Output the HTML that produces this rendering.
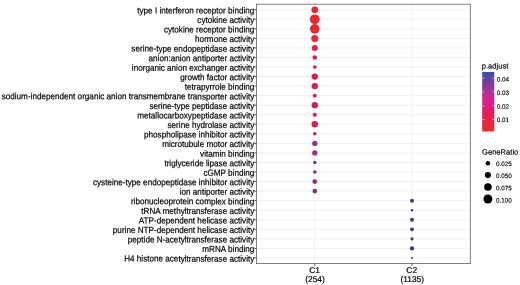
<!DOCTYPE html>
<html><head><meta charset="utf-8"><title>dotplot</title>
<style>
html,body{margin:0;padding:0;background:#fff;}
svg{display:block;}
text{font-family:"Liberation Sans",Arial,Helvetica,sans-serif;fill:#000;text-rendering:geometricPrecision;stroke:#000;stroke-width:0.2px;}
.ax{font-size:8.9px;}
.xl{font-size:8.4px;}
.lt{font-size:7.6px;stroke-width:0.18px;}
.ll{font-size:6.3px;stroke-width:0.14px;}
</style></head><body>
<svg width="520" height="285" viewBox="0 0 520 285">
<rect x="0" y="0" width="520" height="285" fill="#ffffff"/>

<line x1="256.40" x2="470.30" y1="9.75" y2="9.75" stroke="#f0f0f0" stroke-width="1.0"/>
<line x1="256.40" x2="470.30" y1="19.30" y2="19.30" stroke="#f0f0f0" stroke-width="1.0"/>
<line x1="256.40" x2="470.30" y1="28.84" y2="28.84" stroke="#f0f0f0" stroke-width="1.0"/>
<line x1="256.40" x2="470.30" y1="38.38" y2="38.38" stroke="#f0f0f0" stroke-width="1.0"/>
<line x1="256.40" x2="470.30" y1="47.93" y2="47.93" stroke="#f0f0f0" stroke-width="1.0"/>
<line x1="256.40" x2="470.30" y1="57.48" y2="57.48" stroke="#f0f0f0" stroke-width="1.0"/>
<line x1="256.40" x2="470.30" y1="67.02" y2="67.02" stroke="#f0f0f0" stroke-width="1.0"/>
<line x1="256.40" x2="470.30" y1="76.56" y2="76.56" stroke="#f0f0f0" stroke-width="1.0"/>
<line x1="256.40" x2="470.30" y1="86.11" y2="86.11" stroke="#f0f0f0" stroke-width="1.0"/>
<line x1="256.40" x2="470.30" y1="95.66" y2="95.66" stroke="#f0f0f0" stroke-width="1.0"/>
<line x1="256.40" x2="470.30" y1="105.20" y2="105.20" stroke="#f0f0f0" stroke-width="1.0"/>
<line x1="256.40" x2="470.30" y1="114.75" y2="114.75" stroke="#f0f0f0" stroke-width="1.0"/>
<line x1="256.40" x2="470.30" y1="124.29" y2="124.29" stroke="#f0f0f0" stroke-width="1.0"/>
<line x1="256.40" x2="470.30" y1="133.83" y2="133.83" stroke="#f0f0f0" stroke-width="1.0"/>
<line x1="256.40" x2="470.30" y1="143.38" y2="143.38" stroke="#f0f0f0" stroke-width="1.0"/>
<line x1="256.40" x2="470.30" y1="152.93" y2="152.93" stroke="#f0f0f0" stroke-width="1.0"/>
<line x1="256.40" x2="470.30" y1="162.47" y2="162.47" stroke="#f0f0f0" stroke-width="1.0"/>
<line x1="256.40" x2="470.30" y1="172.01" y2="172.01" stroke="#f0f0f0" stroke-width="1.0"/>
<line x1="256.40" x2="470.30" y1="181.56" y2="181.56" stroke="#f0f0f0" stroke-width="1.0"/>
<line x1="256.40" x2="470.30" y1="191.10" y2="191.10" stroke="#f0f0f0" stroke-width="1.0"/>
<line x1="256.40" x2="470.30" y1="200.65" y2="200.65" stroke="#f0f0f0" stroke-width="1.0"/>
<line x1="256.40" x2="470.30" y1="210.19" y2="210.19" stroke="#f0f0f0" stroke-width="1.0"/>
<line x1="256.40" x2="470.30" y1="219.74" y2="219.74" stroke="#f0f0f0" stroke-width="1.0"/>
<line x1="256.40" x2="470.30" y1="229.28" y2="229.28" stroke="#f0f0f0" stroke-width="1.0"/>
<line x1="256.40" x2="470.30" y1="238.83" y2="238.83" stroke="#f0f0f0" stroke-width="1.0"/>
<line x1="256.40" x2="470.30" y1="248.38" y2="248.38" stroke="#f0f0f0" stroke-width="1.0"/>
<line x1="256.40" x2="470.30" y1="257.92" y2="257.92" stroke="#f0f0f0" stroke-width="1.0"/>
<line x1="314.80" x2="314.80" y1="4.20" y2="263.60" stroke="#f0f0f0" stroke-width="1.0"/>
<line x1="412.00" x2="412.00" y1="4.20" y2="263.60" stroke="#f0f0f0" stroke-width="1.0"/>
<circle cx="314.80" cy="9.75" r="3.35" fill="#E7262D"/>
<circle cx="314.80" cy="19.30" r="4.90" fill="#E7262D"/>
<circle cx="314.80" cy="28.84" r="4.85" fill="#E7262D"/>
<circle cx="314.80" cy="38.38" r="3.50" fill="#E7262D"/>
<circle cx="314.80" cy="47.93" r="3.00" fill="#DE2046"/>
<circle cx="314.80" cy="57.48" r="2.25" fill="#DA1D50"/>
<circle cx="314.80" cy="67.02" r="1.85" fill="#DA1D50"/>
<circle cx="314.80" cy="76.56" r="3.15" fill="#DA1D50"/>
<circle cx="314.80" cy="86.11" r="3.20" fill="#DA1D50"/>
<circle cx="314.80" cy="95.66" r="1.95" fill="#DA1D50"/>
<circle cx="314.80" cy="105.20" r="3.15" fill="#DA1D50"/>
<circle cx="314.80" cy="114.75" r="2.05" fill="#DA1D50"/>
<circle cx="314.80" cy="124.29" r="3.20" fill="#DA1D50"/>
<circle cx="314.80" cy="133.83" r="1.75" fill="#CE1A60"/>
<circle cx="314.80" cy="143.38" r="2.65" fill="#982F90"/>
<circle cx="314.80" cy="152.93" r="2.65" fill="#982F90"/>
<circle cx="314.80" cy="162.47" r="1.75" fill="#8A2A8A"/>
<circle cx="314.80" cy="172.01" r="1.80" fill="#8A2A8A"/>
<circle cx="314.80" cy="181.56" r="2.35" fill="#8A2A8A"/>
<circle cx="314.80" cy="191.10" r="2.35" fill="#8A2A8A"/>
<circle cx="412.00" cy="200.65" r="2.00" fill="#56288A"/>
<circle cx="412.00" cy="210.19" r="1.25" fill="#56288A"/>
<circle cx="412.00" cy="219.74" r="1.90" fill="#56288A"/>
<circle cx="412.00" cy="229.28" r="1.85" fill="#56288A"/>
<circle cx="412.00" cy="238.83" r="1.60" fill="#56288A"/>
<circle cx="412.00" cy="248.38" r="2.15" fill="#56288A"/>
<circle cx="412.00" cy="257.92" r="0.95" fill="#3E2070"/>
<rect x="256.40" y="4.20" width="213.90" height="259.40" fill="none" stroke="#606060" stroke-width="0.8"/>
<line x1="254.20" x2="256.40" y1="9.75" y2="9.75" stroke="#333" stroke-width="0.8"/>
<text class="ax" transform="translate(254.30,13.50) scale(0.916,1) rotate(0.03)" text-anchor="end">type I interferon receptor binding</text>
<line x1="254.20" x2="256.40" y1="19.30" y2="19.30" stroke="#333" stroke-width="0.8"/>
<text class="ax" transform="translate(254.30,23.05) scale(0.916,1) rotate(0.03)" text-anchor="end">cytokine activity</text>
<line x1="254.20" x2="256.40" y1="28.84" y2="28.84" stroke="#333" stroke-width="0.8"/>
<text class="ax" transform="translate(254.30,32.59) scale(0.916,1) rotate(0.03)" text-anchor="end">cytokine receptor binding</text>
<line x1="254.20" x2="256.40" y1="38.38" y2="38.38" stroke="#333" stroke-width="0.8"/>
<text class="ax" transform="translate(254.30,42.13) scale(0.916,1) rotate(0.03)" text-anchor="end">hormone activity</text>
<line x1="254.20" x2="256.40" y1="47.93" y2="47.93" stroke="#333" stroke-width="0.8"/>
<text class="ax" transform="translate(254.30,51.68) scale(0.916,1) rotate(0.03)" text-anchor="end">serine-type endopeptidase activity</text>
<line x1="254.20" x2="256.40" y1="57.48" y2="57.48" stroke="#333" stroke-width="0.8"/>
<text class="ax" transform="translate(254.30,61.23) scale(0.916,1) rotate(0.03)" text-anchor="end">anion:anion antiporter activity</text>
<line x1="254.20" x2="256.40" y1="67.02" y2="67.02" stroke="#333" stroke-width="0.8"/>
<text class="ax" transform="translate(254.30,70.77) scale(0.916,1) rotate(0.03)" text-anchor="end">inorganic anion exchanger activity</text>
<line x1="254.20" x2="256.40" y1="76.56" y2="76.56" stroke="#333" stroke-width="0.8"/>
<text class="ax" transform="translate(254.30,80.31) scale(0.916,1) rotate(0.03)" text-anchor="end">growth factor activity</text>
<line x1="254.20" x2="256.40" y1="86.11" y2="86.11" stroke="#333" stroke-width="0.8"/>
<text class="ax" transform="translate(254.30,89.86) scale(0.916,1) rotate(0.03)" text-anchor="end">tetrapyrrole binding</text>
<line x1="254.20" x2="256.40" y1="95.66" y2="95.66" stroke="#333" stroke-width="0.8"/>
<text class="ax" transform="translate(254.30,99.41) scale(0.916,1) rotate(0.03)" text-anchor="end">sodium-independent organic anion transmembrane transporter activity</text>
<line x1="254.20" x2="256.40" y1="105.20" y2="105.20" stroke="#333" stroke-width="0.8"/>
<text class="ax" transform="translate(254.30,108.95) scale(0.916,1) rotate(0.03)" text-anchor="end">serine-type peptidase activity</text>
<line x1="254.20" x2="256.40" y1="114.75" y2="114.75" stroke="#333" stroke-width="0.8"/>
<text class="ax" transform="translate(254.30,118.50) scale(0.916,1) rotate(0.03)" text-anchor="end">metallocarboxypeptidase activity</text>
<line x1="254.20" x2="256.40" y1="124.29" y2="124.29" stroke="#333" stroke-width="0.8"/>
<text class="ax" transform="translate(254.30,128.04) scale(0.916,1) rotate(0.03)" text-anchor="end">serine hydrolase activity</text>
<line x1="254.20" x2="256.40" y1="133.83" y2="133.83" stroke="#333" stroke-width="0.8"/>
<text class="ax" transform="translate(254.30,137.58) scale(0.916,1) rotate(0.03)" text-anchor="end">phospholipase inhibitor activity</text>
<line x1="254.20" x2="256.40" y1="143.38" y2="143.38" stroke="#333" stroke-width="0.8"/>
<text class="ax" transform="translate(254.30,147.13) scale(0.916,1) rotate(0.03)" text-anchor="end">microtubule motor activity</text>
<line x1="254.20" x2="256.40" y1="152.93" y2="152.93" stroke="#333" stroke-width="0.8"/>
<text class="ax" transform="translate(254.30,156.68) scale(0.916,1) rotate(0.03)" text-anchor="end">vitamin binding</text>
<line x1="254.20" x2="256.40" y1="162.47" y2="162.47" stroke="#333" stroke-width="0.8"/>
<text class="ax" transform="translate(254.30,166.22) scale(0.916,1) rotate(0.03)" text-anchor="end">triglyceride lipase activity</text>
<line x1="254.20" x2="256.40" y1="172.01" y2="172.01" stroke="#333" stroke-width="0.8"/>
<text class="ax" transform="translate(254.30,175.76) scale(0.916,1) rotate(0.03)" text-anchor="end">cGMP binding</text>
<line x1="254.20" x2="256.40" y1="181.56" y2="181.56" stroke="#333" stroke-width="0.8"/>
<text class="ax" transform="translate(254.30,185.31) scale(0.916,1) rotate(0.03)" text-anchor="end">cysteine-type endopeptidase inhibitor activity</text>
<line x1="254.20" x2="256.40" y1="191.10" y2="191.10" stroke="#333" stroke-width="0.8"/>
<text class="ax" transform="translate(254.30,194.85) scale(0.916,1) rotate(0.03)" text-anchor="end">ion antiporter activity</text>
<line x1="254.20" x2="256.40" y1="200.65" y2="200.65" stroke="#333" stroke-width="0.8"/>
<text class="ax" transform="translate(254.30,204.40) scale(0.916,1) rotate(0.03)" text-anchor="end">ribonucleoprotein complex binding</text>
<line x1="254.20" x2="256.40" y1="210.19" y2="210.19" stroke="#333" stroke-width="0.8"/>
<text class="ax" transform="translate(254.30,213.94) scale(0.916,1) rotate(0.03)" text-anchor="end">tRNA methyltransferase activity</text>
<line x1="254.20" x2="256.40" y1="219.74" y2="219.74" stroke="#333" stroke-width="0.8"/>
<text class="ax" transform="translate(254.30,223.49) scale(0.916,1) rotate(0.03)" text-anchor="end">ATP-dependent helicase activity</text>
<line x1="254.20" x2="256.40" y1="229.28" y2="229.28" stroke="#333" stroke-width="0.8"/>
<text class="ax" transform="translate(254.30,233.03) scale(0.916,1) rotate(0.03)" text-anchor="end">purine NTP-dependent helicase activity</text>
<line x1="254.20" x2="256.40" y1="238.83" y2="238.83" stroke="#333" stroke-width="0.8"/>
<text class="ax" transform="translate(254.30,242.58) scale(0.916,1) rotate(0.03)" text-anchor="end">peptide N-acetyltransferase activity</text>
<line x1="254.20" x2="256.40" y1="248.38" y2="248.38" stroke="#333" stroke-width="0.8"/>
<text class="ax" transform="translate(254.30,252.12) scale(0.916,1) rotate(0.03)" text-anchor="end">mRNA binding</text>
<line x1="254.20" x2="256.40" y1="257.92" y2="257.92" stroke="#333" stroke-width="0.8"/>
<text class="ax" transform="translate(254.30,261.67) scale(0.916,1) rotate(0.03)" text-anchor="end">H4 histone acetyltransferase activity</text>
<line x1="314.80" x2="314.80" y1="263.60" y2="265.80" stroke="#333" stroke-width="0.8"/>
<text class="xl" transform="translate(314.50,273.00) rotate(0.03)" text-anchor="middle">C1</text>
<text class="xl" transform="translate(315.00,281.90) rotate(0.03)" text-anchor="middle">(254)</text>
<line x1="412.00" x2="412.00" y1="263.60" y2="265.80" stroke="#333" stroke-width="0.8"/>
<text class="xl" transform="translate(411.70,273.00) rotate(0.03)" text-anchor="middle">C2</text>
<text class="xl" transform="translate(412.20,281.90) rotate(0.03)" text-anchor="middle">(1135)</text>
<defs><linearGradient id="cb" x1="0" y1="0" x2="0" y2="1">
<stop offset="0" stop-color="#3B4EA6"/>
<stop offset="0.10" stop-color="#5C46A3"/>
<stop offset="0.22" stop-color="#7F3B9C"/>
<stop offset="0.33" stop-color="#AE2F97"/>
<stop offset="0.47" stop-color="#D81F90"/>
<stop offset="0.57" stop-color="#E31C7C"/>
<stop offset="0.67" stop-color="#E31D60"/>
<stop offset="0.80" stop-color="#E4254A"/>
<stop offset="1" stop-color="#E8302A"/>
</linearGradient></defs>
<text class="lt" transform="translate(481.7,68.5) rotate(0.03)">p.adjust</text>
<rect x="482.20" y="72.00" width="12.10" height="59.50" fill="url(#cb)"/>
<line x1="482.20" x2="484.50" y1="78.10" y2="78.10" stroke="#fff" stroke-width="0.5"/>
<line x1="492.00" x2="494.30" y1="78.10" y2="78.10" stroke="#fff" stroke-width="0.5"/>
<text class="ll" transform="translate(496.7,81.40) rotate(0.03)">0.04</text>
<line x1="482.20" x2="484.50" y1="91.80" y2="91.80" stroke="#fff" stroke-width="0.5"/>
<line x1="492.00" x2="494.30" y1="91.80" y2="91.80" stroke="#fff" stroke-width="0.5"/>
<text class="ll" transform="translate(496.7,95.10) rotate(0.03)">0.03</text>
<line x1="482.20" x2="484.50" y1="105.80" y2="105.80" stroke="#fff" stroke-width="0.5"/>
<line x1="492.00" x2="494.30" y1="105.80" y2="105.80" stroke="#fff" stroke-width="0.5"/>
<text class="ll" transform="translate(496.7,108.80) rotate(0.03)">0.02</text>
<line x1="482.20" x2="484.50" y1="119.50" y2="119.50" stroke="#fff" stroke-width="0.5"/>
<line x1="492.00" x2="494.30" y1="119.50" y2="119.50" stroke="#fff" stroke-width="0.5"/>
<text class="ll" transform="translate(496.7,122.10) rotate(0.03)">0.01</text>
<text class="lt" transform="translate(482.0,154.4) rotate(0.03)">GeneRatio</text>
<circle cx="487.9" cy="163.20" r="2.25" fill="#000"/>
<text class="ll" transform="translate(496.0,165.90) rotate(0.03)">0.025</text>
<circle cx="487.9" cy="175.10" r="3.05" fill="#000"/>
<text class="ll" transform="translate(496.0,178.10) rotate(0.03)">0.050</text>
<circle cx="487.9" cy="187.00" r="3.80" fill="#000"/>
<text class="ll" transform="translate(496.0,190.30) rotate(0.03)">0.075</text>
<circle cx="487.9" cy="199.00" r="4.45" fill="#000"/>
<text class="ll" transform="translate(496.0,202.50) rotate(0.03)">0.100</text>
</svg></body></html>
